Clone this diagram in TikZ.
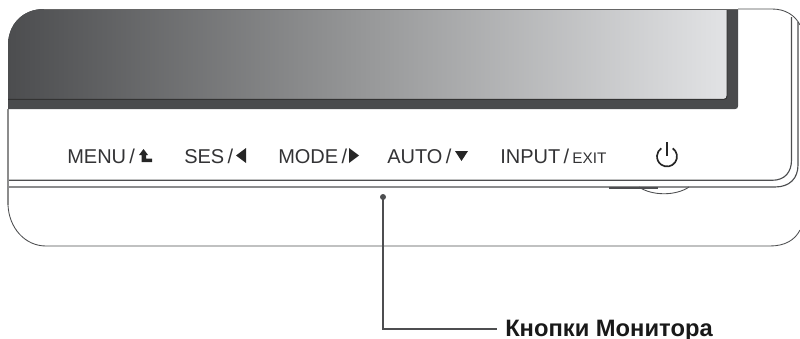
\documentclass[tikz,border=0pt]{standalone}
\usepackage{fontspec}
\setmainfont{Liberation Sans}
\usetikzlibrary{calc}
\definecolor{bez}{HTML}{4A4B4D}
\definecolor{scrL}{HTML}{4C4D4F}
\definecolor{scrM}{HTML}{979899}
\definecolor{scrR}{HTML}{E2E3E5}
\definecolor{ln}{HTML}{4D4E50}
\definecolor{txt}{HTML}{333335}
\tikzset{
  outline/.style={draw=ln,line width=0.85pt},
  thin outline/.style={draw=ln,line width=0.65pt},
  btn/.style={inner sep=0pt,text=txt,font=\fontsize{15}{18}\selectfont,anchor=base west},
  glyph/.style={fill=black!85,draw=none},
  callout/.style={draw=ln,line width=0.9pt},
  powersym/.style={draw=black!85,line width=1.25pt},
}
\begin{document}
\begin{tikzpicture}[x=0.75pt,y=-0.75pt]
\useasboundingbox (0,0) rectangle (800,339);
% bezel
\fill[bez] (8,45) .. controls (8,25) and (22,9) .. (44,9) -- (738,9) -- (738,106) .. controls (738,108) and (737,109) .. (735,109) -- (8,109) -- cycle;
% screen
\shade[left color=scrL,right color=scrR,middle color=scrM] (8,45) .. controls (8,25) and (22,9) .. (44,9) -- (727,9) -- (727,96) .. controls (727,98) and (726,99) .. (724,99) -- (8,99) -- cycle;
\draw[black!80,line width=0.75pt] (8,99.3) -- (724,99.3) .. controls (726,99.3) and (727,98) .. (727,96) -- (727,9);
\draw[black!60,line width=0.5pt] (44,9.2) -- (738,9.2);
% body outlines
\draw[thin outline] (738,9) -- (772,9) .. controls (785,9) and (795,15) .. (800,25);
\draw[outline] (791.5,17) -- (791.5,160) .. controls (791.5,172) and (785,180.3) .. (772,180.3) -- (8,180.3);
\draw[outline] (798,22) -- (798,165) .. controls (798,178) and (790,187) .. (775,187) -- (8,187);
\draw[outline,draw=black!45] (8,109) -- (8,205);
\draw[thin outline] (8,205) .. controls (9,228) and (25,246) .. (46,246) -- (770,246) .. controls (785,246) and (795,240) .. (800,230);
% power button
\draw[outline,line width=1pt] (609,188) -- (658,188);
\draw[thin outline] (639,187) .. controls (652,196) and (676,196) .. (689,187);
% button labels
\node[btn] (menu) at (67,163) {MENU\,/};
\fill[glyph] (139,155) -- (143.5,149) -- (148,155) -- (146,155) -- (146,158.5) -- (152,158.5) -- (152,162) -- (141.5,162) -- (141.5,155) -- cycle;
\node[btn] (ses) at (184,163) {SES\,/};
\fill[glyph] (246,148) -- (246,163) -- (236,155.5) -- cycle;
\node[btn] (mode) at (278,163) {MODE\,/};
\fill[glyph] (349,148) -- (349,163) -- (359,155.5) -- cycle;
\node[btn] (auto) at (387,163) {AUTO\,/};
\fill[glyph] (455,151) -- (468,151) -- (461.5,161) -- cycle;
\node[btn] (input) at (500,163) {INPUT\,/\,{\fontsize{11.5}{14}\selectfont EXIT}};
% power symbol
\draw[powersym] ($(667,156.5)+(-55:10)$) arc[start angle=-55,end angle=235,radius=10];
\draw[powersym] (667,142) -- (667,156);
% callout
\coordinate (dot) at (383,197);
\fill[ln] (dot) circle[radius=3];
\coordinate (bend) at (383,329);
\node[inner sep=0pt,anchor=base west,text=black!90,font=\bfseries\fontsize{17.8}{21}\selectfont] (lab) at (505,336) {Кнопки Монитора};
\draw[callout] (dot) -- (bend) -- ($(lab.base west)+(-8,-7)$);
\end{tikzpicture}
\end{document}
